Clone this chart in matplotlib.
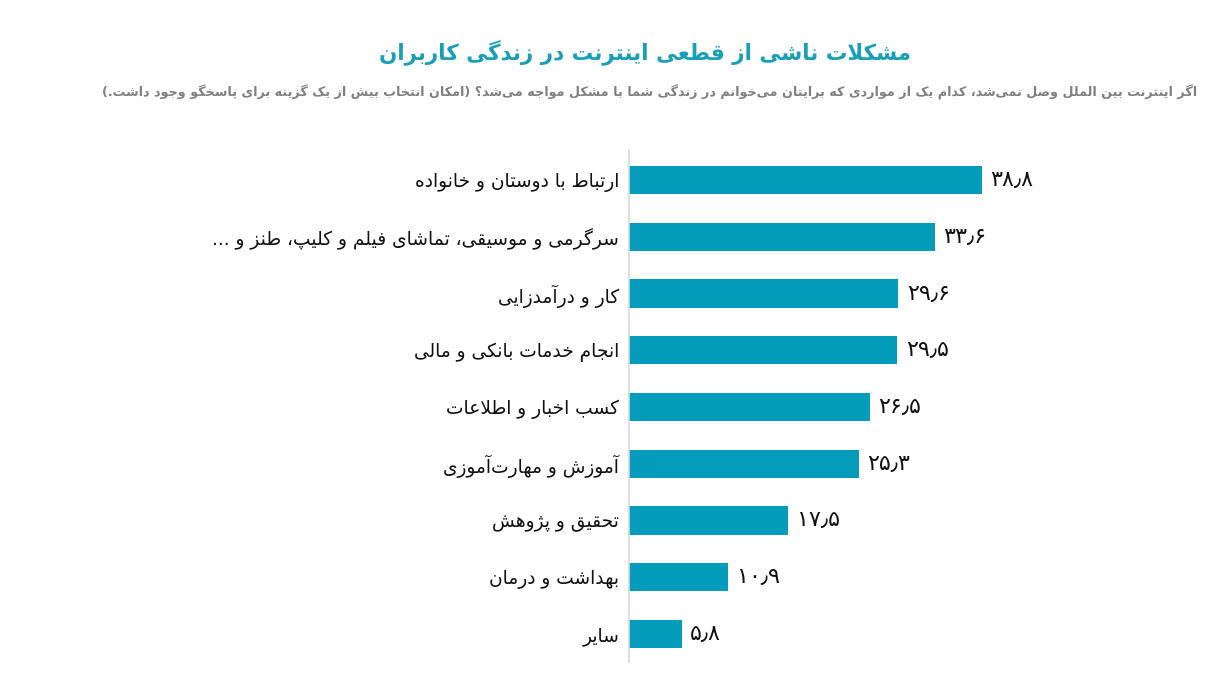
import matplotlib
matplotlib.use("Agg")
import matplotlib.pyplot as plt

# ---------------- data ----------------
categories = [
    "ارتباط با دوستان و خانواده",
    "سرگرمی و موسیقی، تماشای فیلم و کلیپ، طنز و ...",
    "کار و درآمدزایی",
    "انجام خدمات بانکی و مالی",
    "کسب اخبار و اطلاعات",
    "آموزش و مهارت\u200cآموزی",
    "تحقیق و پژوهش",
    "بهداشت و درمان",
    "سایر",
]
values = [38.8, 33.6, 29.6, 29.5, 26.5, 25.3, 17.5, 10.9, 5.8]
title = "مشکلات ناشی از قطعی اینترنت در زندگی کاربران"
subtitle = ("اگر اینترنت بین الملل وصل نمی\u200cشد، کدام یک از مواردی که برایتان می\u200cخوانم "
            "در زندگی شما با مشکل مواجه می\u200cشد؟ (امکان انتخاب بیش از یک گزینه برای پاسخگو وجود داشت.)")

# ---------------- simple Arabic/Persian shaping ----------------
_B = [('\u0621', 0xFE80, 1), ('\u0622', 0xFE81, 2), ('\u0623', 0xFE83, 2), ('\u0624', 0xFE85, 2),
      ('\u0625', 0xFE87, 2), ('\u0626', 0xFE89, 4), ('\u0627', 0xFE8D, 2), ('\u0628', 0xFE8F, 4),
      ('\u0629', 0xFE93, 2), ('\u062A', 0xFE95, 4), ('\u062B', 0xFE99, 4), ('\u062C', 0xFE9D, 4),
      ('\u062D', 0xFEA1, 4), ('\u062E', 0xFEA5, 4), ('\u062F', 0xFEA9, 2), ('\u0630', 0xFEAB, 2),
      ('\u0631', 0xFEAD, 2), ('\u0632', 0xFEAF, 2), ('\u0633', 0xFEB1, 4), ('\u0634', 0xFEB5, 4),
      ('\u0635', 0xFEB9, 4), ('\u0636', 0xFEBD, 4), ('\u0637', 0xFEC1, 4), ('\u0638', 0xFEC5, 4),
      ('\u0639', 0xFEC9, 4), ('\u063A', 0xFECD, 4), ('\u0641', 0xFED1, 4), ('\u0642', 0xFED5, 4),
      ('\u0643', 0xFED9, 4), ('\u0644', 0xFEDD, 4), ('\u0645', 0xFEE1, 4), ('\u0646', 0xFEE5, 4),
      ('\u0647', 0xFEE9, 4), ('\u0648', 0xFEED, 2), ('\u0649', 0xFEEF, 2), ('\u064A', 0xFEF1, 4),
      ('\u067E', 0xFB56, 4), ('\u0686', 0xFB7A, 4), ('\u0698', 0xFB8A, 2), ('\u06A9', 0xFB8E, 4),
      ('\u06AF', 0xFB92, 4), ('\u06CC', 0xFBFC, 4)]
FORMS = {c: tuple(chr(b + k) for k in range(n)) for c, b, n in _B}
LAM_ALEF = {'\u0627': ('\uFEFB', '\uFEFC'), '\u0622': ('\uFEF5', '\uFEF6'),
            '\u0623': ('\uFEF7', '\uFEF8'), '\u0625': ('\uFEF9', '\uFEFA')}
MIRROR = {'(': ')', ')': '(', '[': ']', ']': '[', '«': '»', '»': '«'}


def _joins_next(c):
    f = FORMS.get(c)
    return f is not None and len(f) == 4


def _joins_prev(c):
    f = FORMS.get(c)
    return f is not None and len(f) >= 2


def rtl(s):
    ch = list(s)
    n = len(ch)
    out = []
    i = 0
    while i < n:
        c = ch[i]
        f = FORMS.get(c)
        if f is None:
            if c != '\u200c':
                out.append(c)
            i += 1
            continue
        prev = ch[i - 1] if i > 0 else None
        cp = prev is not None and _joins_next(prev) and _joins_prev(c)
        if c == '\u0644' and i + 1 < n and ch[i + 1] in LAM_ALEF:
            iso, fin = LAM_ALEF[ch[i + 1]]
            out.append(fin if cp else iso)
            i += 2
            continue
        nxt = ch[i + 1] if i + 1 < n else None
        cn = nxt is not None and len(f) == 4 and _joins_prev(nxt)
        if len(f) == 1:
            g = f[0]
        elif cp and cn:
            g = f[3]
        elif cp:
            g = f[1]
        elif cn:
            g = f[2]
        else:
            g = f[0]
        out.append(g)
        i += 1
    return ''.join(MIRROR.get(c, c) for c in reversed(out))


def fa_num(v):
    digits = '۰۱۲۳۴۵۶۷۸۹'
    s = f"{v:.1f}"
    return ''.join(digits[int(c)] if c.isdigit() else '\u066B' for c in s)


# ---------------- plot ----------------
plt.rcParams['font.family'] = ['DejaVu Sans']
W, H = 1219, 673
fig = plt.figure(figsize=(W / 100, H / 100), dpi=100)
fig.patch.set_facecolor('white')

px_per_unit = 9.1
ax_left, ax_right = 629, 1180
top_px, bot_px = 150, 662
ax = fig.add_axes([ax_left / W, 1 - bot_px / H, (ax_right - ax_left) / W, (bot_px - top_px) / H])

bar_color = '#039cba'
ypos = list(range(len(values)))
ax.barh(ypos, values, height=0.5, color=bar_color)
ax.set_xlim(0, (ax_right - ax_left) / px_per_unit)
step = 56.75
ax.set_ylim((bot_px - 180) / step, (top_px - 180) / step)

ax.set_yticks(ypos)
ax.set_yticklabels([rtl(c) for c in categories], fontsize=13.4, color='#111111')
ax.tick_params(axis='y', length=0, pad=7)
ax.set_xticks([])
for s in ['top', 'right', 'bottom']:
    ax.spines[s].set_visible(False)
ax.spines['left'].set_color('#d9d9d9')
ax.spines['left'].set_linewidth(1.2)

for y, v in zip(ypos, values):
    ax.annotate(fa_num(v), (v, y), xytext=(6, 0), textcoords='offset points',
                ha='left', va='center', fontsize=16, color='#111111')

fig.text(645 / W, 1 - 52 / H, rtl(title), ha='center', va='center',
         fontsize=15.5, fontweight='bold', color='#1a9fb8')
fig.text(1197 / W, 1 - 92 / H, rtl(subtitle), ha='right', va='center',
         fontsize=9.2, fontweight='bold', color='#808080')

fig.savefig('out.png', dpi=100, facecolor='white')
